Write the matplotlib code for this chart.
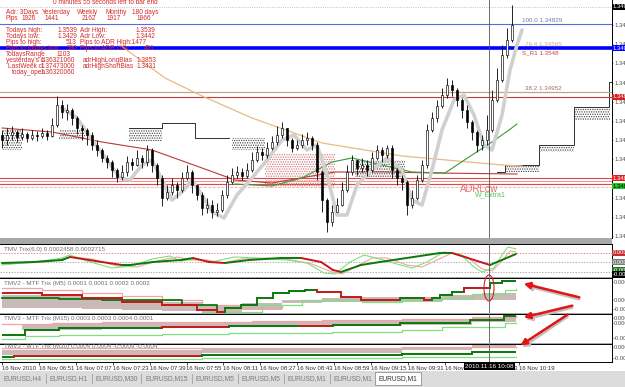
import numpy as np
import matplotlib
matplotlib.use('Agg')
import matplotlib.pyplot as plt
from matplotlib.patches import Rectangle, Ellipse, FancyArrowPatch

plt.rcParams['font.family'] = ['Liberation Sans Narrow', 'Liberation Sans', 'DejaVu Sans']
plt.rcParams['hatch.linewidth'] = 0.6

W, H = 625, 387

# ---- EURUSD M1 candles (16 Nov 2010), one value per bar ----
first_open = 1.34730
closes = [1.34720, 1.34730, 1.34736, 1.34726, 1.34732, 1.34724, 1.34730, 1.34728, 1.34734, 1.34728,
          1.34750, 1.34790, 1.34776, 1.34780, 1.34764, 1.34744, 1.34740, 1.34730, 1.34710, 1.34700,
          1.34684, 1.34676, 1.34660, 1.34646, 1.34656, 1.34676, 1.34670, 1.34684, 1.34676, 1.34700,
          1.34670, 1.34644, 1.34604, 1.34616, 1.34630, 1.34620, 1.34644, 1.34656, 1.34630, 1.34610,
          1.34584, 1.34590, 1.34576, 1.34580, 1.34610, 1.34636, 1.34650, 1.34656, 1.34648, 1.34660,
          1.34680, 1.34696, 1.34690, 1.34704, 1.34716, 1.34730, 1.34744, 1.34720, 1.34704, 1.34710,
          1.34720, 1.34724, 1.34710, 1.34656, 1.34600, 1.34556, 1.34576, 1.34590, 1.34620, 1.34656,
          1.34680, 1.34664, 1.34670, 1.34660, 1.34684, 1.34700, 1.34690, 1.34704, 1.34660, 1.34644,
          1.34636, 1.34590, 1.34604, 1.34640, 1.34670, 1.34740, 1.34764, 1.34788, 1.34810, 1.34830,
          1.34820, 1.34800, 1.34780, 1.34756, 1.34736, 1.34710, 1.34720, 1.34740, 1.34800, 1.34840,
          1.34890, 1.34920, 1.34950]
highs = [1.34740, 1.34744, 1.34748, 1.34740, 1.34744, 1.34736, 1.34740, 1.34738, 1.34744, 1.34740,
         1.34764, 1.34808, 1.34800, 1.34792, 1.34784, 1.34768, 1.34750, 1.34744, 1.34736, 1.34720,
         1.34704, 1.34690, 1.34680, 1.34664, 1.34670, 1.34688, 1.34684, 1.34700, 1.34690, 1.34710,
         1.34704, 1.34674, 1.34650, 1.34630, 1.34644, 1.34636, 1.34656, 1.34670, 1.34660, 1.34630,
         1.34616, 1.34604, 1.34600, 1.34594, 1.34620, 1.34650, 1.34664, 1.34668, 1.34664, 1.34674,
         1.34696, 1.34708, 1.34704, 1.34716, 1.34728, 1.34748, 1.34756, 1.34744, 1.34724, 1.34720,
         1.34732, 1.34736, 1.34728, 1.34716, 1.34660, 1.34604, 1.34590, 1.34604, 1.34636, 1.34670,
         1.34690, 1.34680, 1.34684, 1.34680, 1.34696, 1.34710, 1.34706, 1.34710, 1.34710, 1.34664,
         1.34650, 1.34640, 1.34620, 1.34650, 1.34680, 1.34752, 1.34776, 1.34800, 1.34824, 1.34844,
         1.34840, 1.34824, 1.34804, 1.34790, 1.34760, 1.34740, 1.34730, 1.34770, 1.34820, 1.34864,
         1.34910, 1.34944, 1.34990]
lows = [1.34704, 1.34710, 1.34720, 1.34716, 1.34720, 1.34716, 1.34720, 1.34718, 1.34724, 1.34720,
        1.34726, 1.34746, 1.34764, 1.34760, 1.34750, 1.34732, 1.34720, 1.34710, 1.34700, 1.34688,
        1.34676, 1.34664, 1.34646, 1.34636, 1.34640, 1.34648, 1.34660, 1.34668, 1.34664, 1.34668,
        1.34656, 1.34630, 1.34588, 1.34600, 1.34610, 1.34604, 1.34616, 1.34640, 1.34614, 1.34600,
        1.34570, 1.34574, 1.34564, 1.34568, 1.34576, 1.34604, 1.34632, 1.34644, 1.34640, 1.34644,
        1.34656, 1.34676, 1.34680, 1.34684, 1.34700, 1.34710, 1.34724, 1.34708, 1.34696, 1.34700,
        1.34704, 1.34710, 1.34700, 1.34640, 1.34576, 1.34536, 1.34548, 1.34576, 1.34588, 1.34616,
        1.34650, 1.34650, 1.34656, 1.34648, 1.34656, 1.34680, 1.34676, 1.34684, 1.34644, 1.34630,
        1.34620, 1.34570, 1.34584, 1.34600, 1.34636, 1.34664, 1.34736, 1.34756, 1.34784, 1.34804,
        1.34808, 1.34788, 1.34764, 1.34744, 1.34720, 1.34696, 1.34700, 1.34710, 1.34736, 1.34796,
        1.34836, 1.34884, 1.34916]

# moving averages on the price chart: (bar index, price)
ma_gray_x = [12, 15, 18, 21, 23.6, 25.6, 28, 30, 32, 34, 36, 38, 40, 42, 44.4, 47, 50, 53, 56, 58.4, 61,
             63, 65, 67, 69, 71, 74, 77, 80, 82, 84, 86, 88, 90.4, 92.4, 94.4, 96.4, 98, 100, 101.6, 103, 104]
ma_gray_y = [1.34784, 1.34764, 1.34720, 1.34680, 1.34644, 1.34640, 1.34670, 1.34680, 1.34640, 1.34600,
             1.34616, 1.34640, 1.34610, 1.34576, 1.34564, 1.34610, 1.34644, 1.34680, 1.34720, 1.34730,
             1.34700, 1.34710, 1.34650, 1.34570, 1.34570, 1.34630, 1.34660, 1.34684, 1.34660, 1.34600,
             1.34590, 1.34660, 1.34740, 1.34800, 1.34810, 1.34770, 1.34710, 1.34700, 1.34770, 1.34860,
             1.34910, 1.34940]
ma_tan_x = [23.6, 32.6, 40, 50, 64, 80, 100, 104]
ma_tan_y = [1.34910, 1.34844, 1.34808, 1.34764, 1.34714, 1.34688, 1.34670, 1.34668]
ma_red_x = [0, 10, 20, 30, 40, 46.6, 54, 66.6, 76.6, 86.6, 103]
ma_red_y = [1.34744, 1.34736, 1.34716, 1.34700, 1.34664, 1.34640, 1.34634, 1.34656, 1.34656, 1.34654, 1.34652]
ma_green_x = [46.6, 54, 60, 66, 70, 76, 82, 88.6, 94, 98, 101.4, 103]
ma_green_y = [1.34632, 1.34628, 1.34644, 1.34676, 1.34684, 1.34670, 1.34656, 1.34654, 1.34690, 1.34716, 1.34740, 1.34752]

# higher-timeframe boxes (bar from, bar to, top, bottom, bearish flag)
box_x0 = [0, 11.4, 25.4, 46, 52.6, 70.6, 100.6, 107.6, 114.4]
box_x1 = [4, 16.6, 32, 52.6, 66.6, 80.6, 107.4, 114.4, 121.6]
box_top = [1.34740, 1.34740, 1.34744, 1.34724, 1.34694, 1.34680, 1.34670, 1.34710, 1.34786]
box_bot = [1.34700, 1.34720, 1.34716, 1.34700, 1.34626, 1.34646, 1.34656, 1.34696, 1.34760]
box_bear = [0, 0, 0, 0, 1, 0, 0, 0, 0]
htf_a_x = [25.4, 32, 38.6, 45.4]
htf_a_y = [1.34744, 1.34754, 1.34724, 1.34724]
htf_b_x = [99, 100.6, 107.4, 114.4, 121.4, 122]
htf_b_y = [1.34656, 1.34670, 1.34710, 1.34786, 1.34836, 1.34836]

# levels
bid_level = 1.34986
fib100 = 1.34952
pivot_blue = 1.34904
fib382 = 1.34816
red_level = 1.34806
adr_low = [1.34644, 1.34638, 1.34632]
adr_dash = 1.34626

# text panel
info_rows = [
    ("Todays high:", "1.3539", "Adr High:", "1.3539"),
    ("Todays low:", "1.3429", "Adr Low:", "1.3442"),
    ("Pips to high:", "513", "Pips to ADR High:1477", ""),
    ("Pips to todays low:", "590", "Pips to ADR Low:", "451"),
]
adr_head = ["Adr: 3Days", "Yesterday", "Weekly", "Monthy", "180 days"]
adr_pips = ["Pips", "1926", "1441", "2162", "1917", "1866"]

# ---- indicator windows, values in units of 1e-5 ----
t1_x = [0, 6.4, 12, 13.6, 20, 24, 25.6, 30.2, 35.8, 38.2, 41.4, 44.6, 49.4, 55.8, 59.8, 63.8, 66.2,
        67.8, 71.8, 75.6, 79.6, 87.6, 90, 97.6, 102.8]
t1_main = [-1, 0, 2, 5, 0, -3, -3, 0, 2, 4, 0, -1, 2, 4, 4, 0, -8, -10, -3, 0, 3, 9, 9, -3, 8]
t1_fx = [0, 8, 12, 13.6, 17, 22, 26, 30, 33.6, 35.6, 39, 42, 46.4, 51, 57, 61, 64.4, 66.6, 69.6,
         72.4, 75.6, 79, 82, 85, 88.4, 91.6, 94.4, 96, 98.4, 100, 101.2, 102.8]
t1_fast = [-3, 1, 4, 7, 1, -6, -4, 3, 6, 1, 3, 0, 5, 4, 2, -1, -11, -12, 0, 7, 3, -2, -6, 0, 10, 8,
           -5, -10, -6, 7, 15, 13]
t1_sx = [0, 9, 14, 18, 23, 27, 31, 35, 38, 41, 44, 48, 53, 58, 62, 66, 68, 71, 74, 77, 81, 84, 87,
         90, 93, 96, 98, 100, 101.6, 102.8]
t1_slow = [-2, 0, 5, 3, -4, -5, 1, 5, 2, 2, -1, 3, 4, 2, -2, -10, -12, -4, 4, 4, -3, -5, 2, 9, 5,
           -7, -9, 1, 11, 10]

t2_x = [0, 8, 16, 24, 32, 39, 43, 44.6, 47.8, 51, 54.2, 57.4, 60.6, 63, 67.8, 71.8, 79.6, 84.4, 86,
        87.6, 90, 92.4, 97.6, 100, 102.8]
t2_main = [7, 5, 2, -2, -5, -10, -12, -8, -5, 2, 7, 9, 10, 8, 3, 0, 2, 0, 2, 5, 8, 12, 17, 19, 19]
t2_up = [-1, -1, -1, -1, -1, -1, -1, 1, 1, 1, 1, 1, 1, -1, -1, -1, 1, -1, 1, 1, 1, -1, 1, 1, 1]
t2_bx = [0, 4.6, 11.4, 20, 28.6, 36, 43]
t2_b = [2, 2, 1, 0, 0, -5, -10]
t2_px = [0, 8, 16, 24, 32, 40, 48, 56]
t2_pink = [12, 10, 7, 4, 0, -5, -8, -6]
t2_gx = [40, 52, 60, 72, 80, 88, 94, 100.6, 102.8]
t2_lgreen = [-12, -5, 0, -2, 0, 2, 6, 10, 11]
t2_hx = [0, 8, 16, 24, 32, 40, 48, 56, 64, 72, 80, 88, 96, 102.8]
t2_htop = [5, 4, 2, 0, -2, -5, -3, 0, 2, 3, 3, 5, 7, 8]
t2_hbot = [-8, -8, -9, -10, -11, -12, -10, -3, -2, -2, -2, 0, 0, 0]

t3_x = [0, 4.6, 11.4, 32, 45.4, 59.4, 66.2, 79.6, 93.6, 100.4, 102.8]
t3_main = [-5, 0, 2, 3, 4, 4, 5, 7, 10, 14, 14]
t3_up = [1, 1, 1, -1, 1, -1, 1, 1, 1, 1, 1]
t3_gx = [0, 4.6, 11.4, 32, 45.4, 66, 80, 88, 94, 100.6, 102.8]
t3_lgreen = [-9, -6, -5, -4, -3, -2, 0, 3, 3, 7, 7]
t3_px = [0, 10, 20, 32, 50, 64, 80, 94, 102.8]
t3_pink = [6, 7, 8, 8, 9, 10, 11, 13, 14]
t3_hx = [4, 20, 32, 50, 64, 80, 94, 102.8]
t3_htop = [6, 8, 8, 9, 10, 11, 13, 14]
t3_hbot = [0, 2, 3, 4, 4, 5, 8, 8]

t4_x = [0, 2.4, 40, 66, 80, 94, 102.8]
t4_main = [-5, -4, -3, -2.5, -2, 0, 0]
t4_up = [1, -1, 1, 1, 1, 1, 1]
t4_gx = [0, 40, 80, 102.8]
t4_lgreen = [-7, -6, -5, -5]
t4_px = [0, 50, 80, 102.8]
t4_pink = [4, 4, 5, 5]
t4_hx = [0, 24, 40, 80, 94, 102.8]
t4_htop = [2, 2, 3, 5, 7, 9]
t4_hbot = [-3, -3, -1, 2, 4, 4]

time_labels = ["16 Nov 2010", "16 Nov 06:51", "16 Nov 07:07", "16 Nov 07:23", "16 Nov 07:39",
               "16 Nov 07:55", "16 Nov 08:11", "16 Nov 08:27", "16 Nov 08:43", "16 Nov 08:59",
               "16 Nov 09:15", "16 Nov 09:31", "16 Nov 09:47", "16 Nov 10:03", "16 Nov 10:19"]
tabs = ["EURUSD,H4", "EURUSD,H1", "EURUSD,M30", "EURUSD,M15", "EURUSD,M5", "EURUSD,M5",
        "EURUSD,M1", "EURUSD,M1", "EURUSD,M1"]

GREEN = '#0b780b'
RED = '#c41818'
LGREEN = '#7ee07e'
PINK = '#f3a3a3'
TXT = '#d42a2a'
cross_bar = 97.4

fig = plt.figure(figsize=(W / 100, H / 100), dpi=100)
fig.patch.set_facecolor('white')


def px_axes(x0, y0, x1, y1):
    return fig.add_axes([x0 / W, 1 - y1 / H, (x1 - x0) / W, (y1 - y0) / H])


def ftext(x, y, s, **kw):
    kw.setdefault('fontsize', 4.7)
    kw.setdefault('va', 'center')
    return fig.text(x / W, 1 - y / H, s, **kw)


def style(a, top=True):
    a.set_xlim(-0.4, 122.0)
    a.yaxis.tick_right()
    a.tick_params(axis='y', labelsize=4.2, length=1, width=0.5, pad=0.6, colors='#505050')
    a.set_xticks([])
    a.spines['left'].set_visible(False)
    a.spines['top'].set_visible(top)
    for s in ['right', 'bottom', 'top']:
        a.spines[s].set_linewidth(0.7)
    a.axvline(cross_bar, color='#555555', lw=0.6, zorder=6)


def rbox(a, val, text, fc, tc='white'):
    a.text(1.0015, val, text, transform=a.get_yaxis_transform(), fontsize=4.2, color=tc,
           va='center', ha='left', clip_on=False, zorder=8,
           bbox=dict(boxstyle='square,pad=0.15', fc=fc, ec='none'))


def steps_coloured(a, xs, vals, up, lw):
    v = np.array(vals) * 1e-5
    for i in range(len(xs) - 1):
        c = GREEN if up[i] > 0 else RED
        a.plot([xs[i], xs[i + 1]], [v[i], v[i]], color=c, lw=lw, solid_capstyle='butt', zorder=4)
        if v[i + 1] != v[i]:
            c2 = GREEN if up[i + 1] > 0 else RED
            a.plot([xs[i + 1], xs[i + 1]], [v[i], v[i + 1]], color=c2, lw=lw, zorder=4)


def mtf_panel(a, hx, htop, hbot, px_, pink, gx, lgreen):
    a.fill_between(hx, np.array(hbot) * 1e-5, np.array(htop) * 1e-5, step='post',
                   facecolor='none', edgecolor='#c9b9b9', hatch='|' * 28, lw=0, zorder=1)
    a.step(px_, np.array(pink) * 1e-5, where='post', color=PINK, lw=0.9, zorder=2)
    a.step(gx, np.array(lgreen) * 1e-5, where='post', color=LGREEN, lw=0.9, zorder=2)


# ---------------- main price window ----------------
ax = px_axes(0, 0, 612, 238)
style(ax, top=False)
ax.set_ylim(1.34524, 1.35)
ticks = [1.3495 - 0.000384 * k for k in range(12)]
ax.set_yticks(ticks)
ax.set_yticklabels(['%.5f' % t for t in ticks])

for x0, x1, tp, bt, br in zip(box_x0, box_x1, box_top, box_bot, box_bear):
    ax.add_patch(Rectangle((x0, bt), x1 - x0, tp - bt, facecolor='none', lw=0,
                           edgecolor='#d07070' if br else '#404040', hatch='.' * 7, zorder=1))
ax.step(htf_a_x, htf_a_y, where='post', color='#303030', lw=0.7, zorder=2)
ax.step(htf_b_x, htf_b_y, where='post', color='#303030', lw=0.7, zorder=2)

ax.axhline(bid_level, color='#b0b0b0', lw=0.6, ls=':')
ax.axhline(fib100, color='#5070e0', lw=0.8)
ax.axhline(pivot_blue, color='#0000ff', lw=2.6)
ax.axhline(fib382, color='#c8a088', lw=0.9)
ax.axhline(red_level, color='#c03c3c', lw=0.8)
ax.axhline(adr_low[0], color='#e04848', lw=0.8)
ax.axhline(adr_low[1], color='#f09090', lw=0.7)
ax.axhline(adr_low[2], color='#e04848', lw=0.8)
ax.axhline(adr_dash, color='#f4a8a8', lw=0.6, ls='--')

ax.plot(ma_tan_x, ma_tan_y, color='#e6bc84', lw=0.9, zorder=2)
ax.plot(ma_red_x, ma_red_y, color='#b83a3a', lw=0.8, zorder=2)
ax.plot(ma_green_x, ma_green_y, color='#3a9a3a', lw=0.8, zorder=2)
ax.plot(ma_gray_x, ma_gray_y, color='#d0d0d0', lw=2.6, zorder=2,
        solid_capstyle='round', solid_joinstyle='round')

opens = [first_open] + closes[:-1]
bars = np.arange(len(closes))
ax.vlines(bars, lows, highs, color='black', lw=0.6, zorder=3)
for i, (o, c) in enumerate(zip(opens, closes)):
    body = c - o if c != o else 0.00002
    ax.bar(i, body, bottom=o, width=0.55, color='white' if c > o else 'black',
           edgecolor='black', lw=0.45, zorder=4)

ax.text(112.0, fib100 + 0.00004, '100.0 1.34829', fontsize=4.5, color='#7080a0', ha='right')
ax.text(112.0, pivot_blue + 0.00004, '76.4 1.34565', fontsize=4.5, color='#d8a870', ha='right')
ax.text(104.0, pivot_blue - 0.00012, 'S_R1 1.3548', fontsize=4.5, color='#d04040', ha='left')
ax.text(112.0, fib382 + 0.00004, '38.2 1.34952', fontsize=4.5, color='#a07060', ha='right')
ax.text(91.6, adr_dash - 0.00004, 'ADRLow', fontsize=7, color='#e87070', ha='left', va='center')
ax.text(94.6, adr_dash - 0.00016, 'W_Extra1', fontsize=5, color='#50c850', ha='left', va='center')

rbox(ax, bid_level, '1.34986', '#000000')
rbox(ax, pivot_blue, '1.34904', '#0000ff')
rbox(ax, red_level, '1.34806', '#d02020')
rbox(ax, adr_low[0], '1.34644', '#e02020')
rbox(ax, adr_low[2] - 0.00004, '1.34632', '#22c822', 'black')

# ---------------- Trix window ----------------
a1 = px_axes(0, 244, 612, 277)
style(a1)
a1.set_ylim(-15e-5, 18e-5)
a1.set_yticks([])
a1.axhline(9e-5, color='#d06060', lw=0.5, ls=(0, (2, 2)))
a1.axhline(0, color='#909090', lw=0.5, ls=(0, (2, 2)))
a1.axhline(-10e-5, color='#909090', lw=0.5, ls=(0, (2, 2)))
a1.plot(t1_sx, np.array(t1_slow) * 1e-5, color=PINK, lw=0.8)
a1.plot(t1_fx, np.array(t1_fast) * 1e-5, color=LGREEN, lw=0.8)
m = np.array(t1_main) * 1e-5
for i in range(len(t1_x) - 1):
    a1.plot(t1_x[i:i + 2], m[i:i + 2], color=GREEN if m[i + 1] >= m[i] else RED,
            lw=1.4, solid_capstyle='round', zorder=4)
rbox(a1, 9e-5, '0.0002', '#c03030')
rbox(a1, 0, '0.0000', '#7a7a7a')
rbox(a1, -8e-5, '-0.0001', '#1d7a1d')
rbox(a1, -12.5e-5, '-0.0001', '#000000')

# ---------------- MTF Trix windows ----------------
a2 = px_axes(0, 278, 612, 313)
style(a2)
a2.set_ylim(-13e-5, 22e-5)
a2.set_yticks([18e-5, 0, -9e-5])
a2.set_yticklabels(['0.0002', '0.0000', '-0.0001'])
mtf_panel(a2, t2_hx, t2_htop, t2_hbot, t2_px, t2_pink, t2_gx, t2_lgreen)
a2.step(t2_bx, np.array(t2_b) * 1e-5, where='post', color=GREEN, lw=1.3, zorder=3)
steps_coloured(a2, t2_x, t2_main, t2_up, 1.4)

a3 = px_axes(0, 314, 612, 343)
style(a3)
a3.set_ylim(-13e-5, 16e-5)
a3.set_yticks([12e-5, 7e-5, -8e-5])
a3.set_yticklabels(['0.0003', '0.0001', '-0.0001'])
mtf_panel(a3, t3_hx, t3_htop, t3_hbot, t3_px, t3_pink, t3_gx, t3_lgreen)
steps_coloured(a3, t3_x, t3_main, t3_up, 1.4)

a4 = px_axes(0, 344, 612, 362)
style(a4)
a4.set_ylim(-10e-5, 8e-5)
a4.set_yticks([5e-5, -6e-5])
a4.set_yticklabels(['0.0004', '-0.0004'])
mtf_panel(a4, t4_hx, t4_htop, t4_hbot, t4_px, t4_pink, t4_gx, t4_lgreen)
steps_coloured(a4, t4_x, t4_main, t4_up, 1.4)
a4.set_xticks([7.38 * k for k in range(len(time_labels))])
a4.set_xticklabels(time_labels, fontsize=4.3, ha='left', color='#303030')
a4.tick_params(axis='x', length=2, width=0.5, pad=1.0)

for a, title in [(a1, "TMV Trix(6,0) 0.0002458 0.0002715"),
                 (a2, "TMV2 - MTF Trix (M5) 0.0001 0.0001 0.0002 0.0002"),
                 (a3, "TMV3 - MTF Trix (M15) 0.0003 0.0003 0.0004 0.0001"),
                 (a4, "TMV3 - MTF Trix (M30) 0.0004 0.0004 -0.0009 -0.0004")]:
    a.text(0.006, 0.84, title, transform=a.transAxes, fontsize=4.5, color='#707070', va='center')

# window separators
for y0, y1 in [(238, 244), (277, 278), (313, 314), (343, 344)]:
    fig.add_artist(Rectangle((0, 1 - y1 / H), 612 / W, (y1 - y0) / H, transform=fig.transFigure,
                             fc='#a8a8a8', ec='none', zorder=0.5))

# ---------------- info text ----------------
ftext(53, 2, "0 minutes 55 seconds left to bar end", color=TXT)
for s, x in zip(adr_head, [6, 42, 77, 105, 132]):
    ftext(x, 13, s, color=TXT)
for s, x in zip(adr_pips, [6, 22, 45, 82, 107, 137]):
    ftext(x, 19, s, color=TXT)
for k, (a_, b_, c_, d_) in enumerate(info_rows):
    y = 30 + 6 * k
    ftext(6, y, a_, color=TXT)
    ftext(77, y, b_, color=TXT, ha='right')
    ftext(80, y, c_, color=TXT)
    ftext(155, y, d_, color=TXT, ha='right')
ftext(6, 54, "TodaysRange", color=TXT)
ftext(57, 54, "1103", color=TXT)
ftext(6, 60, "yesterday's cl", color=TXT)
ftext(41, 60, "1.36321060", color=TXT)
ftext(83, 60, "adrHighLongBias", color=TXT)
ftext(156, 60, "1.3853", color=TXT, ha='right')
ftext(8, 66, "LastWeek cl", color=TXT)
ftext(41, 66, "1.37473000", color=TXT)
ftext(83, 66, "adrHighShortBias", color=TXT)
ftext(156, 66, "1.3431", color=TXT, ha='right')
ftext(12, 72, "today_open", color=TXT)
ftext(41, 72, "1.36320060", color=TXT)

# crosshair date box
ftext(489, 366.5, "2010.11.16 10:08", color='white', ha='center', fontsize=4.5, zorder=10,
      bbox=dict(boxstyle='square,pad=0.2', fc='black', ec='none'))

# tab strip
fig.add_artist(Rectangle((0, 0), 1, 16 / H, transform=fig.transFigure, fc='#dcdcdc', ec='none', zorder=0.5))
edges = [0, 46, 92, 141, 192, 238, 284, 330, 375, 421]
fig.add_artist(Rectangle((375 / W, 1 - 385 / H), 46 / W, 13 / H, transform=fig.transFigure,
                         fc='white', ec='#909090', lw=0.6, zorder=1))
for e in edges[1:-1]:
    fig.add_artist(plt.Line2D([e / W, e / W], [1 - 383 / H, 1 - 374 / H], transform=fig.transFigure,
                              color='#a0a0a0', lw=0.6))
for k, name in enumerate(tabs):
    ftext((edges[k] + edges[k + 1]) / 2, 378.5, name, ha='center', fontsize=4.8,
          color='#303030' if k == len(tabs) - 1 else '#7a7a7a', zorder=2)

# annotations drawn on the screenshot
fig.add_artist(Ellipse((489 / W, 1 - 288 / H), 10 / W, 26 / H, transform=fig.transFigure,
                       fill=False, ec='#d42020', lw=0.8, zorder=9))
for (xa, ya), (xb, yb) in [((582, 298), (521, 283)), ((575, 305), (521, 318)), ((570, 313), (518, 347))]:
    for dx, col in [(2, '#c0c0c0'), (0, '#e41414')]:
        fig.add_artist(FancyArrowPatch((xa / W, 1 - (ya + dx) / H), ((xb + dx) / W, 1 - (yb + dx) / H),
                                       transform=fig.transFigure, arrowstyle='-|>', mutation_scale=9,
                                       color=col, lw=1.8, zorder=9))

fig.savefig('out.png', dpi=100)
